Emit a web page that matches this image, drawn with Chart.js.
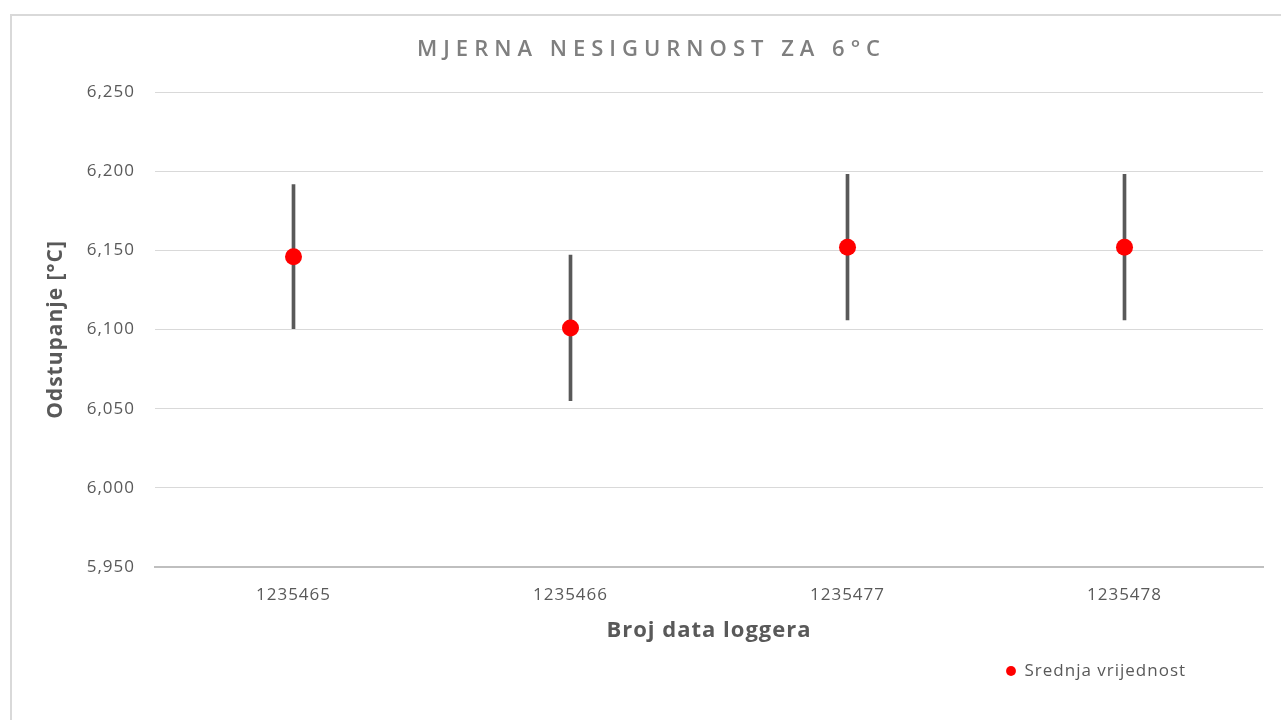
<!DOCTYPE html>
<html>
<head>
<meta charset="utf-8">
<script src="https://cdn.jsdelivr.net/npm/chart.js@4/dist/chart.umd.min.js"></script>
<style>
  html, body { margin: 0; padding: 0; background: #fff; overflow: hidden; }
  #frame { position: absolute; left: 10px; top: 14px; width: 1400px; height: 800px; border: 2px solid #d9d9d9; box-sizing: border-box; }
  #wrap { position: absolute; left: 0; top: 0; width: 1281px; height: 720px; }
</style>
</head>
<body>
<div id="frame"></div>
<div id="wrap"><canvas id="c" width="1281" height="720"></canvas></div>
<script>
const categories = ['1235465', '1235466', '1235477', '1235478'];
const means = [6.146, 6.101, 6.152, 6.152];
const uncertainty = [0.0455, 0.046, 0.046, 0.046];
const yMin = 5.95, yMax = 6.25, yStep = 0.05;
const titleText = 'MJERNA NESIGURNOST ZA 6°C';
const yTitle = 'Odstupanje [°C]';
const xTitle = 'Broj data loggera';
const seriesName = 'Srednja vrijednost';

const errorRanges = means.map((m, i) => [m - uncertainty[i], m + uncertainty[i]]);

Chart.defaults.font.family = "'Open Sans', sans-serif";
Chart.defaults.color = '#595959';

const layoutFix = {
  id: 'layoutFix',
  beforeInit(chart) {
    chart.ctx.letterSpacing = '1px';
  },
  beforeUpdate(chart) {
    chart.ctx.letterSpacing = '1px';
  },
  beforeDraw(chart) {
    chart.ctx.letterSpacing = '1px';
  },
  afterUpdate(chart) {
    const tb = chart.titleBlock;
    if (tb && !tb._spaced) {
      const orig = tb.draw.bind(tb);
      tb.draw = function (area) {
        const ctx = chart.ctx;
        ctx.save();
        ctx.letterSpacing = '6px';
        ctx.translate(20, 2);
        orig(area);
        ctx.restore();
      };
      tb._spaced = true;
    }
  },
  afterLayout(chart) {
    const lg = chart.legend;
    if (lg) { lg.left = 996; lg.right = 1260; }
  }
};

new Chart(document.getElementById('c'), {
  type: 'bar',
  data: {
    labels: categories,
    datasets: [
      {
        type: 'line',
        label: seriesName,
        data: means,
        showLine: false,
        pointRadius: 8.5,
        pointHoverRadius: 8.5,
        pointBackgroundColor: '#ff0000',
        pointBorderWidth: 0,
        borderColor: '#ff0000',
        backgroundColor: '#ff0000',
        order: 0
      },
      {
        type: 'bar',
        label: 'err',
        data: errorRanges,
        backgroundColor: '#595959',
        barThickness: 3,
        order: 1
      }
    ]
  },
  options: {
    responsive: false,
    animation: false,
    layout: { padding: { left: 0, right: 18, top: 0, bottom: 30.5 } },
    plugins: {
      title: {
        display: true,
        text: titleText,
        color: '#7f7f7f',
        font: { size: 22, weight: '600' },
        padding: { top: 35, bottom: 30.6 }
      },
      legend: {
        position: 'bottom',
        align: 'start',
        labels: {
          usePointStyle: true,
          pointStyle: 'circle',
          boxWidth: 10,
          boxHeight: 7,
          padding: 10,
          color: '#595959',
          font: { size: 17 },
          filter: (item) => item.datasetIndex === 0
        }
      },
      tooltip: { enabled: false }
    },
    scales: {
      x: {
        offset: true,
        grid: { display: false, drawTicks: false },
        border: { display: true, color: '#bfbfbf', width: 2 },
        ticks: { color: '#595959', font: { size: 17 }, padding: 18 },
        title: {
          display: true,
          text: xTitle,
          color: '#595959',
          font: { size: 22, weight: 'bold' },
          padding: { top: 0, bottom: 8.3 }
        },
        afterFit(s) { s.height = 85.5; }
      },
      y: {
        min: yMin,
        max: yMax,
        grid: { color: '#d9d9d9', lineWidth: 1, drawTicks: false },
        border: { display: false },
        ticks: {
          stepSize: yStep,
          color: '#595959',
          font: { size: 17 },
          padding: 20,
          callback: (v) => Number(v).toFixed(3).replace('.', ',')
        },
        title: {
          display: true,
          text: yTitle,
          color: '#595959',
          font: { size: 21, weight: 'bold' },
          padding: { top: 43.4, bottom: 0 }
        },
        afterFit(s) { s.width = 155; }
      }
    }
  },
  plugins: [layoutFix]
});
</script>
</body>
</html>
